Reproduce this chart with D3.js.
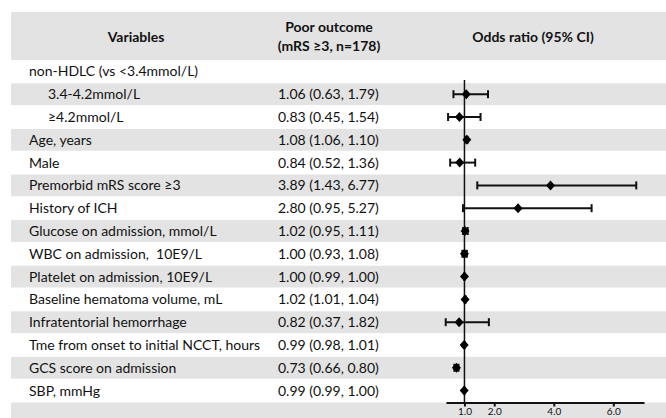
<!DOCTYPE html>
<html lang="en">
<head>
<meta charset="UTF-8">
<script src="https://cdn.jsdelivr.net/npm/d3@7"></script>
<style>
  body { margin: 0; background: #fff; }
  svg text { font-family: Lato, "Open Sans", sans-serif; fill: #111; white-space: pre; }
  .tick text { font-size: 10px; }
</style>
</head>
<body>
<div id="chart"></div>
<script>
// table rows, top to bottom
const labels = [
  "non-HDLC (vs <3.4mmol/L)",
  "3.4-4.2mmol/L",
  "\u22654.2mmol/L",
  "Age, years",
  "Male",
  "Premorbid mRS score \u22653",
  "History of ICH",
  "Glucose on admission, mmol/L",
  "WBC on admission,  10E9/L",
  "Platelet on admission, 10E9/L",
  "Baseline hematoma volume, mL",
  "Infratentorial hemorrhage",
  "Tme from onset to initial NCCT, hours",
  "GCS score on admission",
  "SBP, mmHg"
];
const indented = [false, true, true, false, false, false, false, false, false, false, false, false, false, false, false];
const oddsRatio = [null, 1.06, 0.83, 1.08, 0.84, 3.89, 2.80, 1.02, 1.00, 1.00, 1.02, 0.82, 0.99, 0.73, 0.99];
const ciLow     = [null, 0.63, 0.45, 1.06, 0.52, 1.43, 0.95, 0.95, 0.93, 0.99, 1.01, 0.37, 0.98, 0.66, 0.99];
const ciHigh    = [null, 1.79, 1.54, 1.10, 1.36, 6.77, 5.27, 1.11, 1.08, 1.00, 1.04, 1.82, 1.01, 0.80, 1.00];
const xTicks = [1, 2, 4, 6];

const width = 666, height = 418;
const headTop = 12, headBottom = 60, rowH = 22.8;
const bandLeft = 11;

const svg = d3.select("#chart").append("svg")
  .attr("width", width)
  .attr("height", height);

const rows = labels.map((l, i) => ({
  label: l, indent: indented[i], or: oddsRatio[i], lo: ciLow[i], hi: ciHigh[i], i: i
}));

const y = i => headBottom + rowH * i;   // top of row i

// header band
svg.append("rect")
  .attr("x", bandLeft).attr("y", headTop)
  .attr("width", width - bandLeft).attr("height", headBottom - headTop)
  .style("fill", "#e3e3e3");

// striped rows (odd rows grey) + axis row grey
const nRows = labels.length + 1;
d3.range(nRows).filter(i => i % 2 === 1).forEach(i => {
  svg.append("rect")
    .attr("x", bandLeft).attr("y", y(i) + 0.5)
    .attr("width", width - bandLeft).attr("height", rowH - 1)
    .style("fill", "#e3e3e3");
});

// header text
const head = (x, yy, t) => svg.append("text").attr("x", x).attr("y", yy)
  .attr("text-anchor", "middle").style("font-weight", "bold").style("font-size", "14px")
  .text(t);
head(136, 42, "Variables");
head(329, 32, "Poor outcome");
head(329, 51, "(mRS \u22653, n=178)");
head(533, 42, "Odds ratio (95% CI)");

// labels
svg.append("g").selectAll("text")
  .data(rows)
  .enter().append("text")
  .attr("x", d => d.indent ? 48 : 29)
  .attr("y", d => y(d.i) + rowH / 2)
  .attr("dy", "0.35em")
  .style("font-size", "14px")
  .text(d => d.label);

// values
svg.append("g").selectAll("text")
  .data(rows.filter(d => d.or !== null))
  .enter().append("text")
  .attr("x", 278)
  .attr("y", d => y(d.i) + rowH / 2)
  .attr("dy", "0.35em")
  .style("font-size", "14px")
  .text(d => d.or.toFixed(2) + " (" + d.lo.toFixed(2) + ", " + d.hi.toFixed(2) + ")");

// forest plot
const x = d3.scaleLinear().domain([0.38, 7.03]).range([446, 644]);
const axisY = y(labels.length) + 0.5;

const axisG = svg.append("g")
  .attr("transform", "translate(0," + axisY + ")")
  .call(d3.axisBottom(x).tickValues(xTicks).tickFormat(d3.format(".1f"))
    .tickSize(4).tickSizeOuter(0).tickPadding(1));
axisG.select(".domain").style("stroke", "#111").style("stroke-width", 2);
axisG.selectAll(".tick line").style("stroke", "#111").style("stroke-width", 2);
axisG.selectAll(".tick text").attr("dy", "0.7em").style("font-family", "Lato, sans-serif");

// reference line at 1
svg.append("line")
  .attr("x1", x(1)).attr("x2", x(1))
  .attr("y1", 80).attr("y2", axisY)
  .style("stroke", "#111").style("stroke-width", 1.5);

const pts = rows.filter(d => d.or !== null);
const bars = svg.append("g");
bars.selectAll("line.ci")
  .data(pts).enter().append("line")
  .attr("class", "ci")
  .attr("x1", d => x(d.lo)).attr("x2", d => x(d.hi))
  .attr("y1", d => y(d.i) + rowH / 2).attr("y2", d => y(d.i) + rowH / 2)
  .style("stroke", "#111").style("stroke-width", 2);
["lo", "hi"].forEach(k => {
  bars.selectAll("line.cap-" + k)
    .data(pts).enter().append("line")
    .attr("class", "cap-" + k)
    .attr("x1", d => x(d[k])).attr("x2", d => x(d[k]))
    .attr("y1", d => y(d.i) + rowH / 2 - 4).attr("y2", d => y(d.i) + rowH / 2 + 4)
    .style("stroke", "#111").style("stroke-width", 2);
});
bars.selectAll("path.pt")
  .data(pts).enter().append("path")
  .attr("class", "pt")
  .attr("d", "M0,-5L4.5,0L0,5L-4.5,0Z")
  .attr("transform", d => "translate(" + x(d.or) + "," + (y(d.i) + rowH / 2) + ")")
  .style("fill", "#000");
</script>
</body>
</html>
